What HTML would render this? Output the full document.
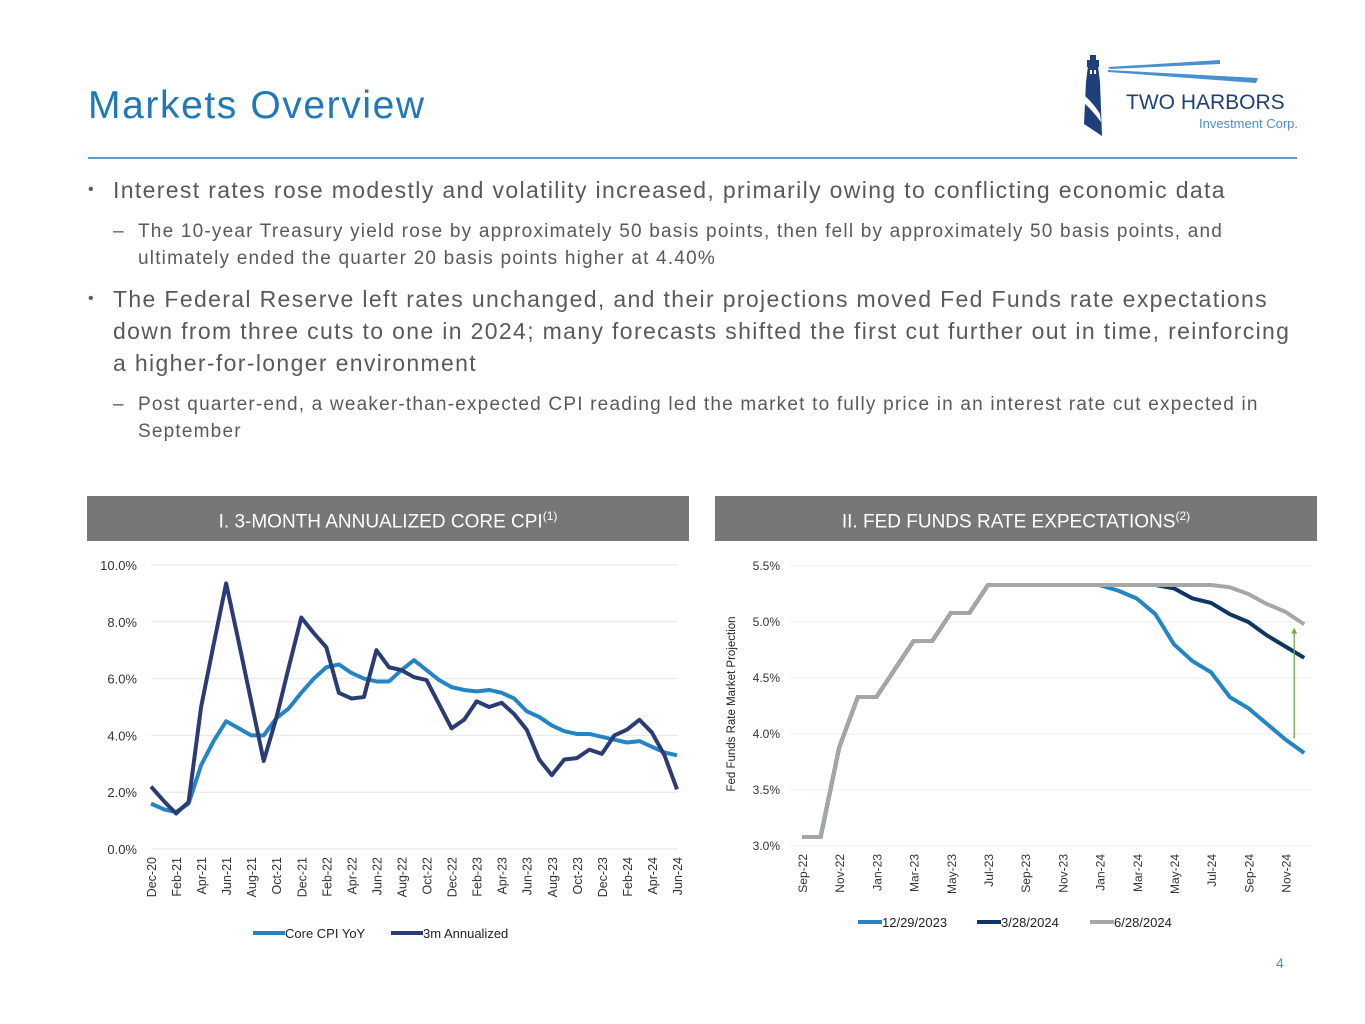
<!DOCTYPE html>
<html><head><meta charset="utf-8">
<style>
body{margin:0;width:1365px;height:1024px;background:#fff;font-family:"Liberation Sans",sans-serif;position:relative;overflow:hidden}
.abs{position:absolute}
h1{position:absolute;left:88px;top:84px;margin:0;font-weight:normal;font-size:39px;letter-spacing:1.6px;color:#1f78b9}
.rule{left:88px;top:157px;width:1209px;height:2px;background:#5b9ec9}
.b1{font-size:23px;color:#595959;line-height:32px;letter-spacing:1.35px;white-space:nowrap}
.b2{font-size:19px;color:#595959;line-height:27px;letter-spacing:1.2px;white-space:nowrap}
.hdr{background:#777;color:#fff;font-size:19px;text-align:center;height:45px;line-height:40px;top:496px}
.hdr sup{font-size:12px}
svg text{font-family:"Liberation Sans",sans-serif}
</style></head><body>
<h1>Markets Overview</h1>
<div class="abs" style="left:1080px;top:52px;width:225px;height:90px">
<svg width="225" height="90">
<polygon points="8,14 18,14 20,30 22,84 4,72 6,30" fill="#1e3f7a"/>
<rect x="7" y="8" width="12" height="7" fill="#1e3f7a"/>
<rect x="10" y="3" width="6" height="5" fill="#1e3f7a"/>
<rect x="10" y="18" width="2" height="4" fill="#fff"/><rect x="14" y="18" width="2" height="4" fill="#fff"/>
<polygon points="28,15 140,8 140,12 30,17" fill="#4a8fcf"/>
<polygon points="28,18 178,26 176,31 28,20" fill="#4a8fcf"/>
<path d="M5,44 Q14,52 20,62 L21,70 Q12,58 5,52Z" fill="#fff"/>
<text x="46" y="57" font-size="21" fill="#1e3f7a">TWO HARBORS</text>
<text x="218" y="76" font-size="13" fill="#4a8fcf" text-anchor="end">Investment Corp.</text>
</svg></div>
<div class="abs rule"></div>

<div class="abs b1" style="left:88px;top:174px"><span style="position:absolute;left:0;font-size:16px">•</span><div style="margin-left:25px">Interest rates rose modestly and volatility increased, primarily owing to conflicting economic data</div></div>
<div class="abs b2" style="left:113px;top:218px"><span style="position:absolute;left:0">–</span><div style="margin-left:25px">The 10-year Treasury yield rose by approximately 50 basis points, then fell by approximately 50 basis points, and<br>ultimately ended the quarter 20 basis points higher at 4.40%</div></div>
<div class="abs b1" style="left:88px;top:283px"><span style="position:absolute;left:0;font-size:16px">•</span><div style="margin-left:25px">The Federal Reserve left rates unchanged, and their projections moved Fed Funds rate expectations<br>down from three cuts to one in 2024; many forecasts shifted the first cut further out in time, reinforcing<br>a higher-for-longer environment</div></div>
<div class="abs b2" style="left:113px;top:391px"><span style="position:absolute;left:0">–</span><div style="margin-left:25px">Post quarter-end, a weaker-than-expected CPI reading led the market to fully price in an interest rate cut expected in<br>September</div></div>

<div class="abs hdr" style="left:87px;width:602px">I. 3-MONTH ANNUALIZED CORE CPI<sup>(1)</sup></div>
<div class="abs hdr" style="left:715px;width:602px">II. FED FUNDS RATE EXPECTATIONS<sup>(2)</sup></div>

<svg id="c1" class="abs" style="left:0;top:0" width="1365" height="1024"></svg>
<div class="abs" style="left:1276px;top:955px;font-size:14px;color:#4a8fcf">4</div>

<script>
const cpiMonths=["Dec-20","Jan-21","Feb-21","Mar-21","Apr-21","May-21","Jun-21","Jul-21","Aug-21","Sep-21","Oct-21","Nov-21","Dec-21","Jan-22","Feb-22","Mar-22","Apr-22","May-22","Jun-22","Jul-22","Aug-22","Sep-22","Oct-22","Nov-22","Dec-22","Jan-23","Feb-23","Mar-23","Apr-23","May-23","Jun-23","Jul-23","Aug-23","Sep-23","Oct-23","Nov-23","Dec-23","Jan-24","Feb-24","Mar-24","Apr-24","May-24","Jun-24"];
const coreYoY=[1.6,1.4,1.3,1.6,2.95,3.8,4.5,4.25,4.0,4.0,4.6,4.95,5.5,6.0,6.4,6.5,6.2,6.0,5.9,5.9,6.3,6.65,6.3,5.95,5.7,5.6,5.55,5.6,5.5,5.3,4.85,4.65,4.35,4.15,4.05,4.05,3.95,3.85,3.75,3.8,3.6,3.4,3.3];
const annualized3m=[2.2,1.7,1.25,1.65,5.0,7.2,9.35,7.3,5.2,3.1,4.6,6.4,8.15,7.6,7.1,5.5,5.3,5.35,7.0,6.4,6.3,6.05,5.95,5.1,4.25,4.55,5.2,5.0,5.15,4.75,4.2,3.15,2.6,3.15,3.2,3.5,3.35,4.0,4.2,4.55,4.1,3.3,2.1];
const cpiTicks=[0,2,4,6,8,10];

const ffMonths=["Sep-22","Oct-22","Nov-22","Dec-22","Jan-23","Feb-23","Mar-23","Apr-23","May-23","Jun-23","Jul-23","Aug-23","Sep-23","Oct-23","Nov-23","Dec-23","Jan-24","Feb-24","Mar-24","Apr-24","May-24","Jun-24","Jul-24","Aug-24","Sep-24","Oct-24","Nov-24","Dec-24"];
const base=[3.08,3.08,3.88,4.33,4.33,4.58,4.83,4.83,5.08,5.08,5.33,5.33,5.33,5.33,5.33,5.33,5.33];
const ff1229=base.concat([5.28,5.21,5.07,4.80,4.65,4.55,4.33,4.23,4.09,3.95,3.83]);
const ff0328=base.concat([5.33,5.33,5.33,5.30,5.21,5.17,5.07,5.0,4.88,4.78,4.68]);
const ff0628=base.concat([5.33,5.33,5.33,5.33,5.33,5.33,5.31,5.25,5.16,5.09,4.98]);
const ffTicks=[3.0,3.5,4.0,4.5,5.0,5.5];
const arrowRange=[3.96,4.95];

const NS="http://www.w3.org/2000/svg";
const svg=document.getElementById('c1');
function el(t,a,txt){const e=document.createElementNS(NS,t);for(const k in a)e.setAttribute(k,a[k]);if(txt!=null)e.textContent=txt;svg.appendChild(e);return e;}

const x1=i=>151+i*(677-151)/(cpiMonths.length-1);
const y1=v=>849-v*(849-565)/10;
cpiTicks.forEach(t=>{
 const g=el('line',{x1:151,x2:678,y1:y1(t),y2:y1(t),stroke:'#e6e6e6'});
 
 const l=el('text',{x:137,y:y1(t)+5,'font-size':13,fill:'#333','text-anchor':'end'},t.toFixed(1)+'%');
 
});
cpiMonths.forEach((m,i)=>{if(i%2)return;
 const l=el('text',{x:0,y:0,'font-size':12.5,fill:'#333','text-anchor':'end',transform:`translate(${x1(i)+5},857) rotate(-90)`},m);
 
});
function line(xs,ys,arr,col,w,name){const p=el('polyline',{points:arr.map((v,i)=>xs(i)+','+ys(v)).join(' '),fill:'none',stroke:col,'stroke-width':w,'stroke-linejoin':'round'});
 }
line(x1,y1,coreYoY,'#2384c6',4,'core-cpi-yoy-line');
line(x1,y1,annualized3m,'#2b3c74',4,'annualized-3m-line');
[[253,'#2384c6','Core CPI YoY','legend-core-cpi'],[391,'#2b3c74','3m Annualized','legend-3m']].forEach(([x,c,t,n])=>{
 const g=el('line',{x1:x,x2:x+32,y1:933,y2:933,stroke:c,'stroke-width':4});
 const l=el('text',{x:x+32,y:938,'font-size':13,fill:'#222'},t);
});

const x2=i=>802+i*18.6;
const y2=v=>846-(v-3)*112;
ffTicks.forEach(t=>{
 const g=el('line',{x1:790,x2:1312,y1:y2(t),y2:y2(t),stroke:'#ececec'});
 
 const l=el('text',{x:780,y:y2(t)+4,'font-size':12,fill:'#333','text-anchor':'end'},t.toFixed(1)+'%');
 
});
ffMonths.forEach((m,i)=>{if(i%2)return;
 const l=el('text',{x:0,y:0,'font-size':12,fill:'#333','text-anchor':'end',transform:`translate(${x2(i)+5},854) rotate(-90)`},m);
 
});
const yt=el('text',{x:0,y:0,'font-size':11.5,fill:'#222','text-anchor':'middle',transform:'translate(735,704) rotate(-90)'},'Fed Funds Rate Market Projection');

line(x2,y2,ff1229,'#2384c6',4,'ff-12-29-2023-line');
line(x2,y2,ff0328,'#0e3563',4,'ff-3-28-2024-line');
line(x2,y2,ff0628,'#a6a6a6',4,'ff-6-28-2024-line');
const ax=x2(ff1229.length-1)-10;
const ar=el('line',{x1:ax,x2:ax,y1:y2(arrowRange[0]),y2:y2(arrowRange[1])+4,stroke:'#70ad47','stroke-width':1.3});

const ah=el('polygon',{points:`${ax-3},${y2(arrowRange[1])+6} ${ax+3},${y2(arrowRange[1])+6} ${ax},${y2(arrowRange[1])}`,fill:'#70ad47'});

[[858,'#2384c6','12/29/2023','legend-12-29-2023'],[977,'#0e3563','3/28/2024','legend-3-28-2024'],[1090,'#a6a6a6','6/28/2024','legend-6-28-2024']].forEach(([x,c,t,n])=>{
 const g=el('line',{x1:x,x2:x+24,y1:922,y2:922,stroke:c,'stroke-width':4});
 const l=el('text',{x:x+24,y:927,'font-size':13,fill:'#222'},t);
});
</script>
</body></html>
